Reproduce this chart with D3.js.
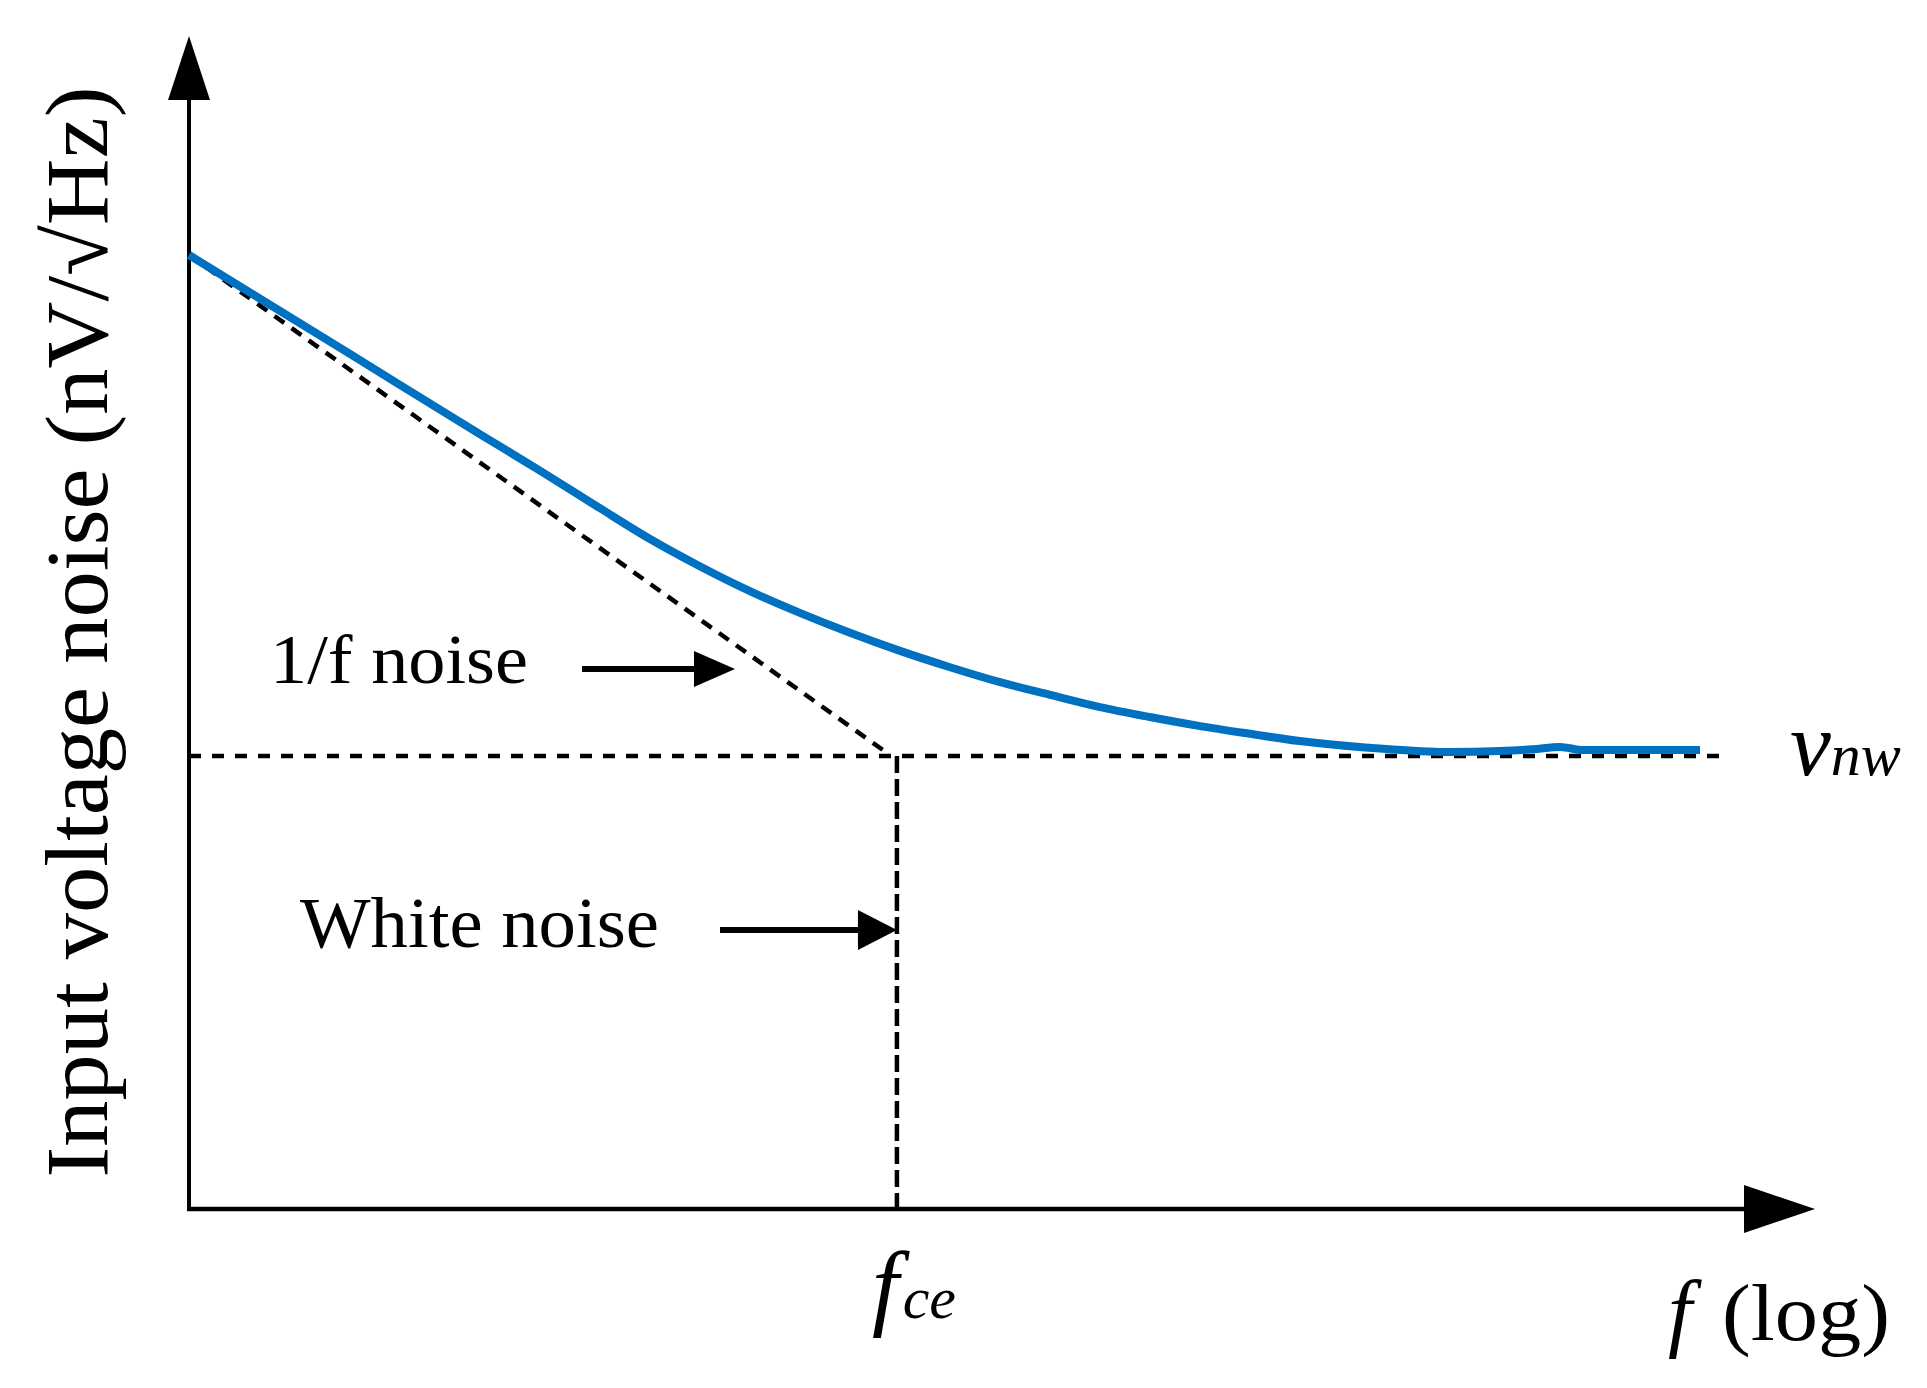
<!DOCTYPE html>
<html>
<head>
<meta charset="utf-8">
<script src="https://cdn.jsdelivr.net/npm/d3@7"></script>
<style>
  html, body { margin: 0; padding: 0; background: #fff; }
  svg { display: block; }
  text { font-family: "Liberation Serif", "Times New Roman", serif; fill: #000; }
</style>
</head>
<body>
<svg id="chart" width="1927" height="1388"></svg>
<script>
// ---- data ----
const curveFreq  = [1, 2.67, 5.99, 8.32, 12.2, 16.55, 22.4, 30.4, 41.2, 55.9, 75.8, 102.8, 139.4, 189, 256, 347, 471, 638, 865, 1497, 2157, 2925, 3575, 4215, 4844, 9880];
const curveNoise = [21.06, 18.87, 17.06, 16.34, 15.47, 14.79, 14.19, 13.64, 13.16, 12.72, 12.32, 11.96, 11.63, 11.35, 11.08, 10.86, 10.66, 10.49, 10.33, 10.15, 10.09, 10.11, 10.15, 10.20, 10.13, 10.13];
const flickerFreq  = [1, 70];          // 1/f asymptote
const flickerNoise = [21.06, 10.07];
const whiteFreq  = [1, 11720];         // white-noise floor
const whiteNoise = [10, 10];
const cornerFreq = 74.4;               // f_ce
const cornerNoise = [10, 0];

const yLabel = "Input voltage noise (nV/\u221AHz)";
const labels = { flicker: "1/f noise", white: "White noise" };

// ---- layout ----
const svg = d3.select("#chart");
const x = d3.scaleLog().domain([1, 10000]).range([189, 1702]);
const y = d3.scaleLinear().domain([0, 10]).range([1209, 756]);
const x0 = x(1), y0 = y(0);
const xTip = 1815, yTip = 36;

const line = d3.line().x(d => x(d[0])).y(d => y(d[1]));

// axes
svg.append("line").attr("x1", x0).attr("y1", y0).attr("x2", x0).attr("y2", yTip + 40)
  .attr("stroke", "#000").attr("stroke-width", 4);
svg.append("path").attr("d", `M${x0},${yTip} L${x0 - 21},${yTip + 64} L${x0 + 21},${yTip + 64} Z`).attr("fill", "#000");
svg.append("line").attr("x1", x0 - 2).attr("y1", y0).attr("x2", xTip - 40).attr("y2", y0)
  .attr("stroke", "#000").attr("stroke-width", 4.5);
svg.append("path").attr("d", `M${xTip},${y0} L${xTip - 71},${y0 - 24} L${xTip - 71},${y0 + 24} Z`).attr("fill", "#000");

// dashed guide lines
svg.append("path").datum(d3.zip(whiteFreq, whiteNoise)).attr("d", line)
  .attr("fill", "none").attr("stroke", "#000").attr("stroke-width", 4.5)
  .attr("stroke-dasharray", "12,11");
svg.append("path").datum(d3.zip(flickerFreq, flickerNoise)).attr("d", line)
  .attr("fill", "none").attr("stroke", "#000").attr("stroke-width", 4.5)
  .attr("stroke-dasharray", "12,9");
svg.append("path").datum(cornerNoise.map(v => [cornerFreq, v])).attr("d", line)
  .attr("fill", "none").attr("stroke", "#000").attr("stroke-width", 4.5)
  .attr("stroke-dasharray", "17,6");

// total noise curve
svg.append("path").datum(d3.zip(curveFreq, curveNoise))
  .attr("d", d3.line().x(d => x(d[0])).y(d => y(d[1])).curve(d3.curveMonotoneX))
  .attr("fill", "none").attr("stroke", "#0070C0").attr("stroke-width", 8)
  .attr("stroke-linejoin", "round");

// annotation arrows
function arrow(x1, x2, yy, hl, hw) {
  svg.append("line").attr("x1", x1).attr("y1", yy).attr("x2", x2 - hl + 2).attr("y2", yy)
    .attr("stroke", "#000").attr("stroke-width", 6);
  svg.append("path").attr("d", `M${x2},${yy} L${x2 - hl},${yy - hw} L${x2 - hl},${yy + hw} Z`).attr("fill", "#000");
}
arrow(582, 735, 669, 41, 18);
arrow(720, x(cornerFreq), 930, 39, 20);

// labels
svg.append("text").attr("x", 270).attr("y", 683).attr("font-size", 70)
  .attr("textLength", 258).attr("lengthAdjust", "spacingAndGlyphs").text(labels.flicker);
svg.append("text").attr("x", 300).attr("y", 947).attr("font-size", 71)
  .attr("textLength", 359).attr("lengthAdjust", "spacingAndGlyphs").text(labels.white);

svg.append("text").attr("transform", "translate(107,632) rotate(-90)")
  .attr("text-anchor", "middle").attr("font-size", 88)
  .attr("textLength", 1091).attr("lengthAdjust", "spacingAndGlyphs").text(yLabel);

// v_nw
const vt = svg.append("text").attr("x", 1790).attr("y", 775).attr("font-style", "italic");
vt.append("tspan").attr("font-size", 92).text("v");
vt.append("tspan").attr("font-size", 60).text("nw");

// f_ce
const ft = svg.append("text").attr("x", 872).attr("y", 1318).attr("font-style", "italic");
ft.append("tspan").attr("font-size", 96).text("f");
ft.append("tspan").attr("font-size", 60).attr("dx", 4).text("ce");

// f (log)
svg.append("text").attr("x", 1668).attr("y", 1340).attr("font-size", 86)
  .attr("font-style", "italic").text("f");
svg.append("text").attr("x", 1722).attr("y", 1340).attr("font-size", 80)
  .attr("textLength", 168).attr("lengthAdjust", "spacingAndGlyphs").text("(log)");
</script>
</body>
</html>
